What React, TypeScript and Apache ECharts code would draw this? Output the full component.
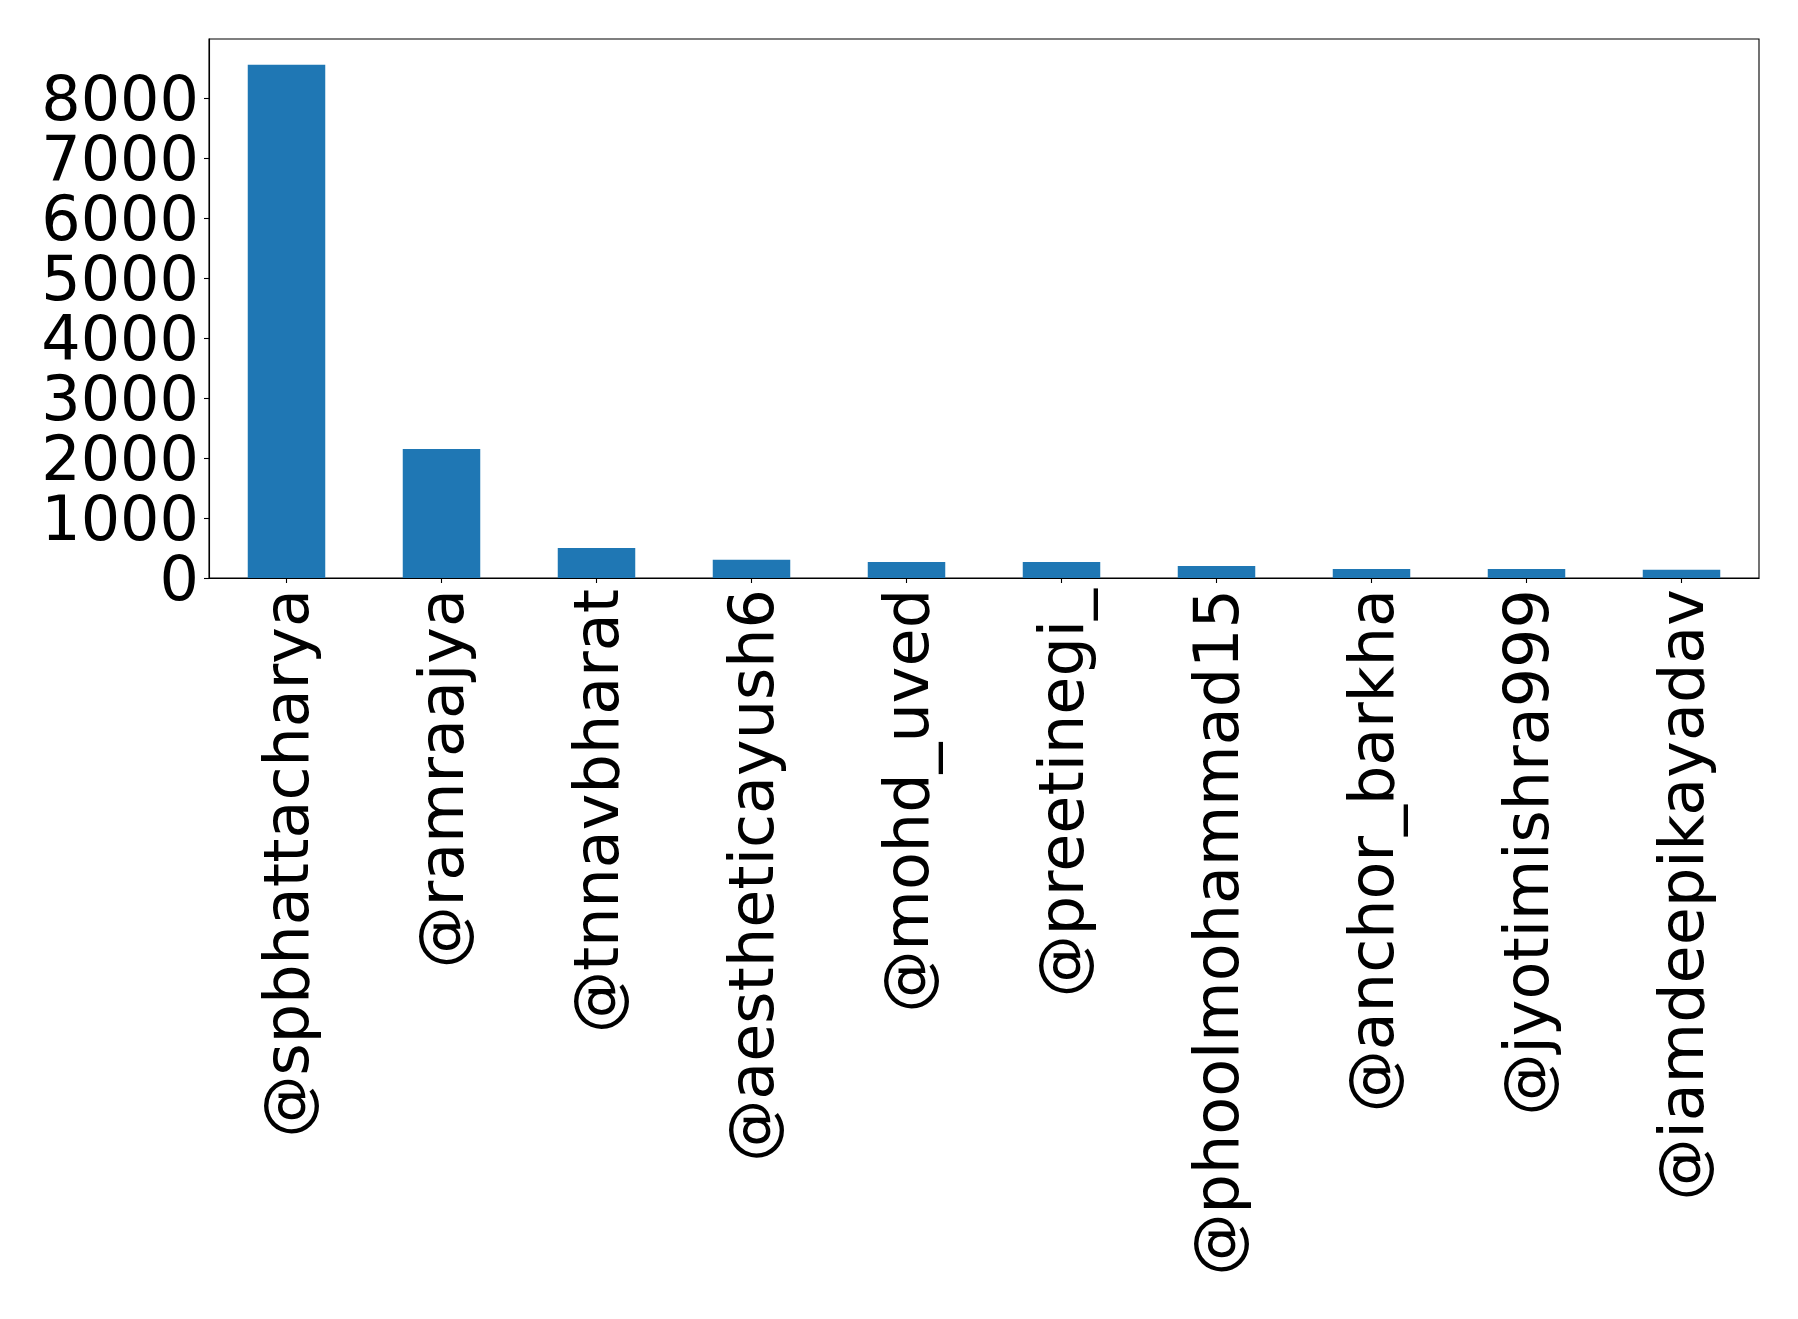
import React, { useEffect, useRef } from "react";
import * as echarts from "echarts";

const categories = [
  "@spbhattacharya",
  "@ramraajya",
  "@tnnavbharat",
  "@aestheticayush6",
  "@mohd_uved",
  "@preetinegi_",
  "@phoolmohammad15",
  "@anchor_barkha",
  "@jyotimishra999",
  "@iamdeepikayadav",
];
const counts = [8560, 2150, 500, 305, 267, 267, 200, 150, 150, 138];
const yTicksEven = [0, 2000, 4000, 6000, 8000];
const yTicksOdd = [1000, 3000, 5000, 7000];
const yMax = 8988;

export default function App() {
  const ref = useRef<HTMLDivElement>(null);
  useEffect(() => {
    if (!ref.current) return;
    const chart = echarts.init(ref.current, null, { renderer: "svg" });
    const font = "DejaVu Sans";
    const yAxisFor = (ticks: number[], showLine: boolean) => ({
      type: "value",
      position: "left",
      min: 0,
      max: yMax,
      axisLine: { show: showLine, lineStyle: { color: "#000000", width: 1.1 } },
      axisTick: {
        show: true,
        length: 5,
        customValues: ticks,
        lineStyle: { color: "#000000", width: 1.1 },
      },
      axisLabel: {
        customValues: ticks,
        showMinLabel: true,
        showMaxLabel: true,
        formatter: (v: number) => String(v),
        margin: 10,
        color: "#000000",
        fontFamily: font,
        fontSize: 62,
        lineHeight: 56,
      },
      splitLine: { show: false },
    });
    chart.setOption({
      animation: false,
      backgroundColor: "#ffffff",
      grid: {
        left: 209,
        right: 39,
        top: 39,
        bottom: 741,
        show: true,
        borderColor: "#000000",
        borderWidth: 1.1,
        backgroundColor: "transparent",
      },
      xAxis: {
        type: "category",
        data: categories,
        axisLine: { show: true, lineStyle: { color: "#000000", width: 1.1 } },
        axisTick: { show: true, alignWithLabel: true, length: 5, lineStyle: { color: "#000000", width: 1.1 } },
        axisLabel: {
          rotate: 90,
          interval: 0,
          margin: 11,
          color: "#000000",
          fontFamily: font,
          fontSize: 62,
        },
        splitLine: { show: false },
      },
      yAxis: [yAxisFor(yTicksEven, true), yAxisFor(yTicksOdd, false)],
      series: [
        {
          type: "bar",
          data: counts,
          yAxisIndex: 0,
          barWidth: "50%",
          itemStyle: { color: "#1f77b4" },
        },
      ],
    });
    return () => chart.dispose();
  }, []);
  return (
    <div
      ref={ref}
      style={{ position: "fixed", left: 0, top: 0, width: 1798, height: 1319, background: "#fff" }}
    />
  );
}
